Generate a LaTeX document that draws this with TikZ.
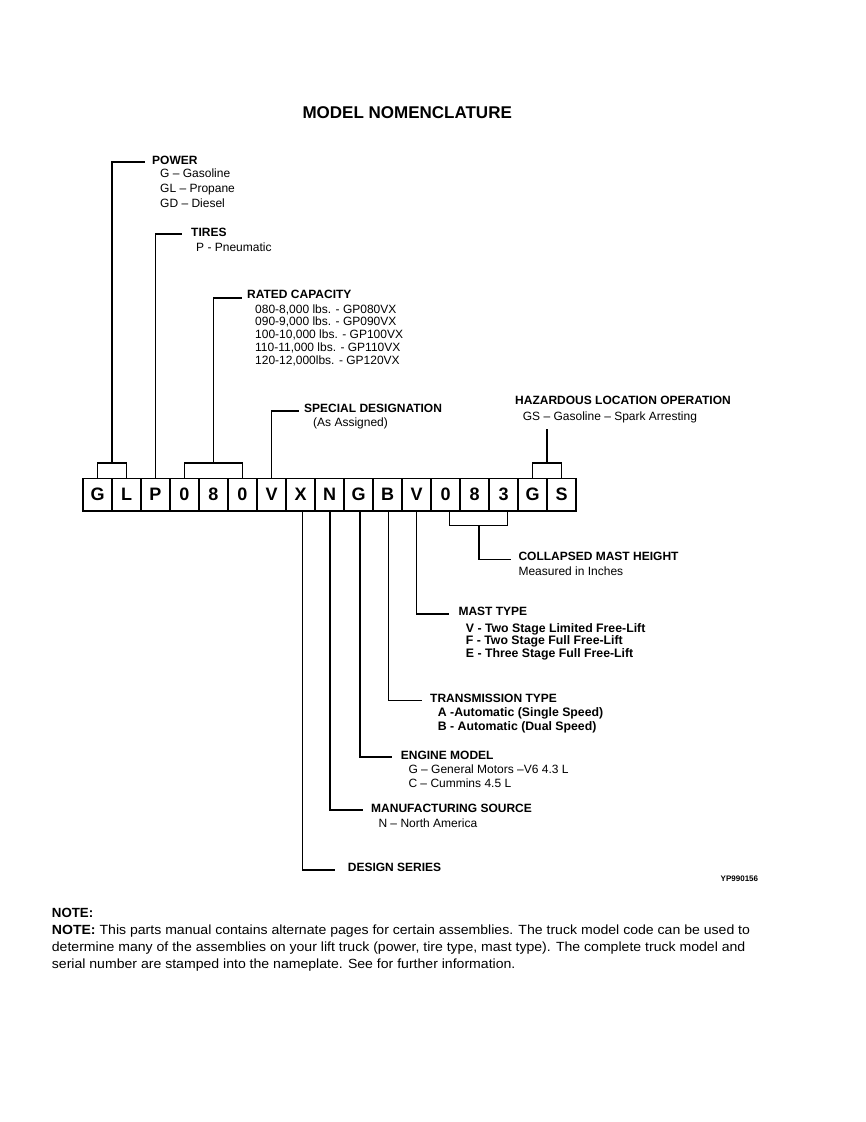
\documentclass[tikz,border=0pt]{standalone}
\usepackage{fontspec}
\setmainfont{Liberation Sans}
\usetikzlibrary{calc}
\begin{document}
\begin{tikzpicture}[x=1pt,y=-1pt,
  ln/.style={line width=1.7pt},
  cell/.style={draw, line width=1.7pt, minimum width=29pt, minimum height=32.5pt, inner sep=0pt, font=\fontsize{18}{18}\selectfont\bfseries},
  hd/.style={anchor=base west, inner sep=0pt, font=\fontsize{12}{14}\selectfont\bfseries},
  it/.style={anchor=base west, inner sep=0pt, font=\fontsize{12}{14}\selectfont},
  itb/.style={anchor=base west, inner sep=0pt, font=\fontsize{12.3}{14}\selectfont\bfseries},
  notetxt/.style={anchor=base west, inner sep=0pt, font=\fontsize{13.3}{15}\selectfont}]
\fill[white] (0,0) rectangle (866,1122);
\useasboundingbox (0,0) rectangle (866,1122);

% title
\node[anchor=base, inner sep=0pt, font=\fontsize{17}{18}\selectfont\bfseries] (title) at (407.2,118.3) {MODEL NOMENCLATURE};

% code boxes
\foreach \c [count=\i] in {G,L,P,0,8,0,V,X,N,G,B,V,0,8,3,G,S}
  \node[cell] (b\i) at ({83+29*(\i-0.5)},494.75) {\c};

% ---- labels above
\node[hd] (pow) at (152,164) {POWER};
\node[it] (pow1) at (160,177.5) {G – Gasoline};
\node[it] (pow2) at (160,192.3) {GL – Propane};
\node[it] (pow3) at (160,207.2) {GD – Diesel};

\node[hd] (tir) at (191,236.7) {TIRES};
\node[it] (tir1) at (196,251) {P - Pneumatic};

\node[hd] (cap) at (247,298) {RATED CAPACITY};
\node[it] (cap1) at (255,313) {080-8,000 lbs. - GP080VX};
\node[it] (cap2) at (255,325.7) {090-9,000 lbs. - GP090VX};
\node[it] (cap3) at (255,338.5) {100-10,000 lbs. - GP100VX};
\node[it] (cap4) at (255,351.2) {110-11,000 lbs. - GP110VX};
\node[it] (cap5) at (255,364) {120-12,000lbs. - GP120VX};

\node[hd] (spc) at (304,412) {SPECIAL DESIGNATION};
\node[it] (spc1) at (313,426) {(As Assigned)};

\node[hd] (haz) at (515,404) {HAZARDOUS LOCATION OPERATION};
\node[it] (haz1) at (522.7,420) {GS – Gasoline – Spark Arresting};

% ---- labels below
\node[hd] (cmh) at (518.3,560.5) {COLLAPSED MAST HEIGHT};
\node[it] (cmh1) at (518.3,575) {Measured in Inches};

\node[hd] (mst) at (458.3,615) {MAST TYPE};
\node[itb] (mst1) at (465.7,632) {V - Two Stage Limited Free-Lift};
\node[itb] (mst2) at (465.7,644.5) {F - Two Stage Full Free-Lift};
\node[itb] (mst3) at (465.7,657) {E - Three Stage Full Free-Lift};

\node[hd] (trn) at (430,702.5) {TRANSMISSION TYPE};
\node[itb] (trn1) at (437.7,716.5) {A -Automatic (Single Speed)};
\node[itb] (trn2) at (437.7,730.5) {B - Automatic (Dual Speed)};

\node[hd] (eng) at (400.7,759) {ENGINE MODEL};
\node[it] (eng1) at (408.3,773.3) {G – General Motors –V6 4.3 L};
\node[it] (eng2) at (408.3,787.3) {C – Cummins 4.5 L};

\node[hd] (mfg) at (371,812.5) {MANUFACTURING SOURCE};
\node[it] (mfg1) at (378.3,827) {N – North America};

\node[hd] (dsn) at (347.7,871) {DESIGN SERIES};

\node[anchor=base east, inner sep=0pt, font=\fontsize{8}{9}\selectfont\bfseries] (yp) at (758.3,881.7) {YP990156};

% ---- line ends at labels
\coordinate (powE) at ($(pow.base west)+(-7,-2)$);
\coordinate (tirE) at ($(tir.base west)+(-9,-2.5)$);
\coordinate (capE) at ($(cap.base west)+(-5,0)$);
\coordinate (spcE) at ($(spc.base west)+(-5,-1)$);
\coordinate (cmhE) at ($(cmh.base west)+(-7,-1)$);
\coordinate (mstE) at ($(mst.base west)+(-9,-1)$);
\coordinate (trnE) at ($(trn.base west)+(-8,-2)$);
\coordinate (engE) at ($(eng.base west)+(-9,-2)$);
\coordinate (mfgE) at ($(mfg.base west)+(-8,-2.5)$);
\coordinate (dsnE) at ($(dsn.base west)+(-12.5,-1)$);

% ---- connectors above
\draw[ln] (b1.north) -- ++(0,-14.5) -| (b2.north);
\coordinate (glm) at ($(b1.north)!0.5!(b2.north)+(0,-14.5)$);
\draw[ln] (glm) |- (powE);

\draw[ln] (b3.north) |- (tirE);

\draw[ln] (b4.north) -- ++(0,-14.5) -| (b6.north);
\coordinate (cpm) at ($(b4.north)!0.5!(b6.north)+(0,-14.5)$);
\draw[ln] (cpm) |- (capE);

\draw[ln] (b7.north) |- (spcE);

\draw[ln] (b16.north) -- ++(0,-15) -| (b17.north);
\coordinate (gsm) at ($(b16.north)!0.5!(b17.north)+(0,-15)$);
\coordinate (hazE) at ($(gsm)+(0,-34)$);
\draw[ln] (gsm) -- (hazE);

% ---- connectors below
\draw[ln] ([xshift=2pt]b8.south) |- (dsnE);
\draw[ln] ([xshift=0.5pt]b9.south) |- (mfgE);
\draw[ln] ([xshift=1.5pt]b10.south) |- (engE);
\draw[ln] ([xshift=1pt]b11.south) |- (trnE);
\draw[ln] (b12.south) |- (mstE);

\draw[ln] ([xshift=4pt]b13.south) -- ++(0,13.5) -| ([xshift=4pt]b15.south);
\coordinate (hgm) at ($(b13.south)!0.5!(b15.south)+(4.5,13.5)$);
\draw[ln] (hgm) |- (cmhE);

% ---- note
\node[notetxt] (n0) at (51.7,917.5) {\textbf{NOTE:}};
\node[notetxt] (n1) at (51.7,934.5) {\scalebox{1.058}[1]{\textbf{NOTE:} This parts manual contains alternate pages for certain assemblies. The truck model code can be used to}};
\node[notetxt] (n2) at (51.7,951.5) {\scalebox{1.058}[1]{determine many of the assemblies on your lift truck (power, tire type, mast type). The complete truck model and}};
\node[notetxt] (n3) at (51.7,968.3) {\scalebox{1.058}[1]{serial number are stamped into the nameplate. See for further information.}};
\end{tikzpicture}
\end{document}
